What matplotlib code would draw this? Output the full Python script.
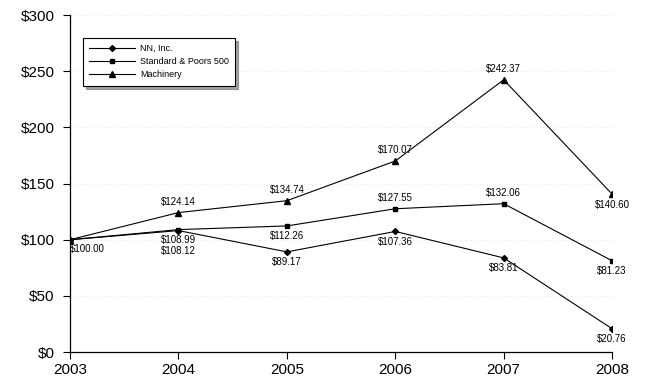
import matplotlib
matplotlib.use("Agg")
import matplotlib.pyplot as plt
from matplotlib.ticker import FuncFormatter

plt.rcParams['font.family'] = ['Liberation Sans', 'DejaVu Sans']

years = [2003, 2004, 2005, 2006, 2007, 2008]
nn = [100.00, 108.12, 89.17, 107.36, 83.81, 20.76]
sp = [100.00, 108.99, 112.26, 127.55, 132.06, 81.23]
mach = [100.00, 124.14, 134.74, 170.07, 242.37, 140.60]
yticks = [0, 50, 100, 150, 200, 250, 300]

fig = plt.figure(figsize=(6.61, 3.86), dpi=100)
ax = fig.add_axes([0.106, 0.088, 0.82, 0.873])

ax.plot(years, nn, color='black', lw=0.8, marker='D', ms=3, label='NN, Inc.')
ax.plot(years, sp, color='black', lw=0.8, marker='s', ms=3.5, label='Standard & Poors 500')
ax.plot(years, mach, color='black', lw=0.8, marker='^', ms=4, label='Machinery')

fs = 7
# NN labels (below)
for i, (x, y) in enumerate(zip(years, nn)):
    if i == 0:
        continue
    ax.annotate(f"${y:.2f}", (x, y), xytext=(0, -4 if i != 1 else -11), textcoords='offset points',
                ha='center', va='top', fontsize=fs)
# S&P labels
for i, (x, y) in enumerate(zip(years, sp)):
    if i == 0:
        continue
    above = i in (3, 4)
    ax.annotate(f"${y:.2f}", (x, y), xytext=(0, 4 if above else -4), textcoords='offset points',
                ha='center', va='bottom' if above else 'top', fontsize=fs)
# Machinery labels
for i, (x, y) in enumerate(zip(years, mach)):
    if i == 0:
        continue
    above = i != 5
    ax.annotate(f"${y:.2f}", (x, y), xytext=(0, 4 if above else -4), textcoords='offset points',
                ha='center', va='bottom' if above else 'top', fontsize=fs)
ax.annotate(f"${nn[0]:.2f}", (years[0], nn[0]), xytext=(0, -3), textcoords='offset points',
            ha='left', va='top', fontsize=fs)

ax.set_xlim(2003, 2008)
ax.set_ylim(0, 300)
ax.set_xticks(years)
ax.set_yticks(yticks)
ax.yaxis.set_major_formatter(FuncFormatter(lambda v, p: f"${v:.0f}"))
ax.tick_params(axis='both', labelsize=11, direction='out', length=5, width=0.8, pad=6)
ax.tick_params(axis='x', pad=3)
for s in ['top', 'right']:
    ax.spines[s].set_visible(False)
for s in ['left', 'bottom']:
    ax.spines[s].set_linewidth(0.9)

for v in yticks[1:]:
    ax.axhline(v, color='#dddddd', lw=0.6, ls=(0, (1, 3)), zorder=0)

leg = ax.legend(loc='upper left', bbox_to_anchor=(0.024, 0.932), fontsize=6.5, frameon=True,
                fancybox=False, shadow=True, edgecolor='black', handlelength=5,
                borderpad=0.7, labelspacing=0.45, borderaxespad=0, handletextpad=0.6)
leg.get_frame().set_linewidth(0.8)

fig.savefig("out.png", dpi=100)
